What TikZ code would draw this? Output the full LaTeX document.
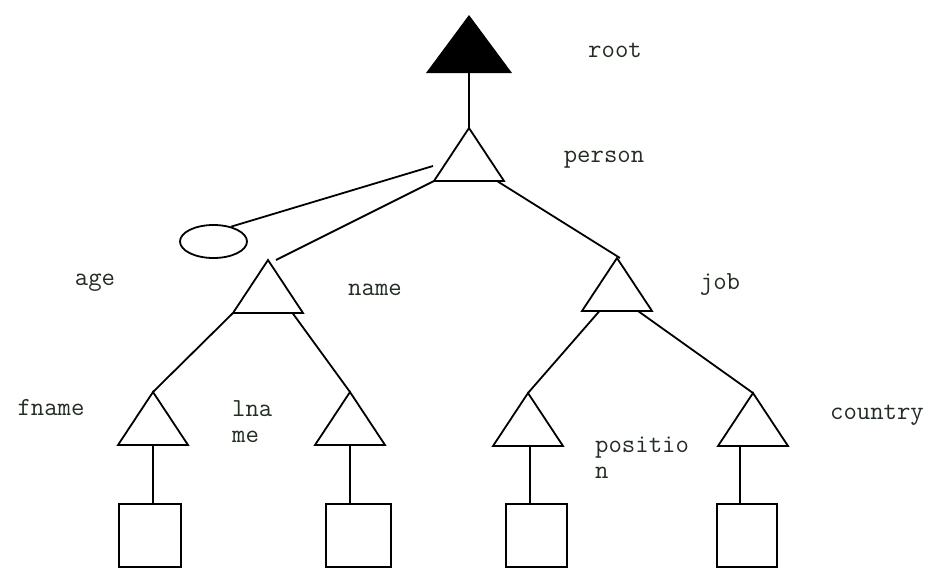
\documentclass[tikz,border=0pt]{standalone}
\usepackage{fontspec}
\usetikzlibrary{shapes.geometric,calc}
\definecolor{txt}{RGB}{35,45,35}
\tikzset{
  ln/.style={line width=1.8pt, black},
  lbl/.style={font=\ttfamily\fontsize{26}{26}\selectfont, text=txt, inner sep=0pt, align=left},
  leaf/.style={draw, line width=1.8pt, rectangle, inner sep=0pt, minimum height=63pt},
  tri/.pic={
    \coordinate (-a) at (0,0);
    \coordinate (-l) at (-35,53);
    \coordinate (-r) at (35,53);
    \coordinate (-b) at (0,53);
    \draw[ln, line join=miter] (-a) -- (-l) -- (-r) -- cycle;
  }
}
\begin{document}
\begin{tikzpicture}[x=1pt,y=-1pt]
\useasboundingbox (0,0) rectangle (930,571);
% root
\coordinate (root-a) at (469,15);
\coordinate (root-b) at (469,73);
\fill[black] (root-a) -- (426,73) -- (512,73) -- cycle;
% triangles
\pic (person) at (469,128) {tri};
\pic (name) at (268,260) {tri};
\pic (job) at (617,258) {tri};
\pic (fname) at (153,392) {tri};
\pic (lname) at (350,392) {tri};
\pic (position) at (528,393) {tri};
\pic (country) at (753,393) {tri};
% ellipse
\node[draw, ln, ellipse, minimum width=67pt, minimum height=33pt, inner sep=0pt] (ageE) at (213.5,241.5) {};
\coordinate (ageend) at (433,166);
% leaves
\node[leaf, minimum width=62pt] (sq1) at (150,535.5) {};
\node[leaf, minimum width=65pt] (sq2) at (358.5,535.5) {};
\node[leaf, minimum width=61pt] (sq3) at (536.5,535.5) {};
\node[leaf, minimum width=60pt] (sq4) at (747,535.5) {};
% connectors
\draw[ln] (root-b) -- (person-a);
\draw[ln] (ageE.40) -- (ageend);
\draw[ln] (person-l) -- ([xshift=8pt]name-a);
\draw[ln] ($(person-b)!0.8!(person-r)$) -- ([xshift=3pt]job-a);
\draw[ln] (name-l) -- (fname-a);
\draw[ln] ($(name-b)!0.7!(name-r)$) -- (lname-a);
\draw[ln] ($(job-b)!0.5!(job-l)$) -- (position-a);
\draw[ln] ($(job-b)!0.6!(job-r)$) -- (country-a);
\draw[ln] (fname-b) -- (fname-b |- sq1.north);
\draw[ln] (lname-b) -- (lname-b |- sq2.north);
\draw[ln] ([xshift=2pt]position-b) -- ([xshift=2pt]position-b |- sq3.north);
\draw[ln] ([xshift=-13pt]country-b) -- ([xshift=-13pt]country-b |- sq4.north);
% labels
\node[lbl] (troot) at (615,50) {root};
\node[lbl] (tperson) at (604,160) {person};
\node[lbl] (tage) at (95,283) {age};
\node[lbl] (tname) at (375,290) {name};
\node[lbl] (tjob) at (720,285) {job};
\node[lbl] (tfname) at (51,408) {fname};
\node[lbl, anchor=north west] (tlname) at (232,400) {lna\\me};
\node[lbl, anchor=north west] (tposition) at (595,437) {positio\\n};
\node[lbl] (tcountry) at (877,415) {country};
\end{tikzpicture}
\end{document}
